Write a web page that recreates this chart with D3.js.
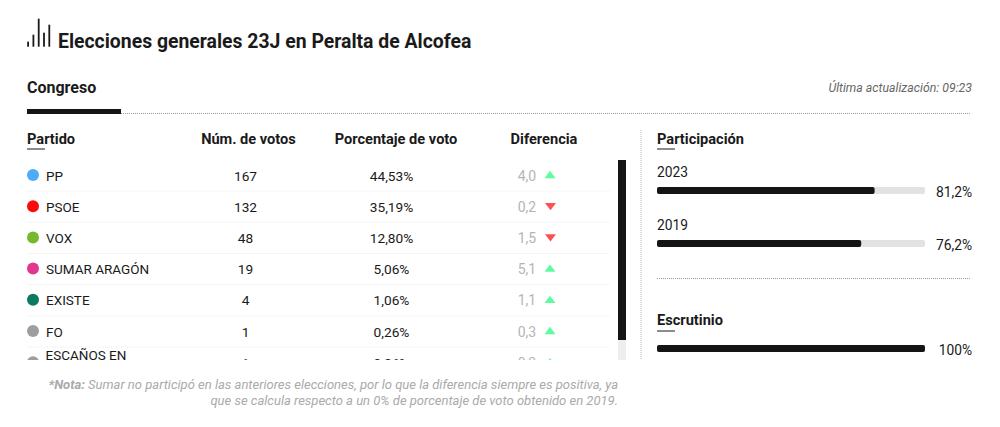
<!DOCTYPE html>
<html>
<head>
<meta charset="utf-8">
<script src="https://cdn.jsdelivr.net/npm/d3@7"></script>
<style>
  html, body { margin: 0; padding: 0; background: #fff; }
  svg { display: block; }
  text { font-family: Roboto, sans-serif; fill: #1a1a1a; }
</style>
</head>
<body>
<script>
const parties = ['PP', 'PSOE', 'VOX', 'SUMAR ARAGÓN', 'EXISTE', 'FO', 'ESCAÑOS EN BLANCO']
const votes = [167, 132, 48, 19, 4, 1, 1]
const percents = ['44,53%', '35,19%', '12,80%', '5,06%', '1,06%', '0,26%', '0,26%']
const diffs = ['4,0', '0,2', '1,5', '5,1', '1,1', '0,3', '0,3']
const directions = ['up', 'down', 'down', 'up', 'up', 'up', 'up']
const partyColors = ['#4dabf7', '#ff0a0a', '#78b82e', '#e0378f', '#0b7a5e', '#9e9e9e', '#9e9e9e']
const columns = ['Partido', 'Núm. de votos', 'Porcentaje de voto', 'Diferencia']
const turnoutYears = ['2023', '2019']
const turnoutValues = [81.2, 76.2]
const turnoutLabels = ['81,2%', '76,2%']
const countedValue = 100
const countedLabel = '100%'
const titleBars = [5, 12, 28, 14, 22]

const svg = d3.select('body').append('svg')
    .attr('width', 1000)
    .attr('height', 427)

const rowY = d3.scalePoint().domain(parties).range([175.5, 362.7])
const barX = d3.scaleLinear().domain([0, 100]).range([657, 925])
const iconH = d3.scaleLinear().domain([0, 28]).range([0, 28])

function label(parent, x, y, txt, size, weight, anchor, color) {
    return parent.append('text')
        .attr('x', x)
        .attr('y', y)
        .attr('font-size', size)
        .attr('font-weight', weight || 400)
        .attr('text-anchor', anchor || 'start')
        .style('fill', color || '#1a1a1a')
        .text(txt)
}

function dotted(x1, y1, x2, y2, color) {
    svg.append('line')
        .attr('x1', x1).attr('y1', y1)
        .attr('x2', x2).attr('y2', y2)
        .attr('stroke', color || '#9a9a9a')
        .attr('stroke-width', 1)
        .attr('stroke-dasharray', '1 1')
}

// title and its little bars
svg.selectAll('.icon').data(titleBars).join('rect')
    .attr('class', 'icon')
    .attr('x', (d, i) => 27.2 + i * 5.3)
    .attr('y', d => 46.7 - iconH(d))
    .attr('width', 1.8)
    .attr('height', d => iconH(d))
    .attr('fill', '#1a1a1a')

label(svg, 58, 47.5, 'Elecciones generales 23J en Peralta de Alcofea', 19.4, 700)
label(svg, 27, 92.5, 'Congreso', 16, 700)
label(svg, 972, 92, 'Última actualización: 09:23', 12.3, 400, 'end', '#666').attr('font-style', 'italic')

svg.append('rect').attr('x', 27).attr('y', 109).attr('width', 94).attr('height', 5).attr('fill', '#141414')
dotted(121, 113.5, 971, 113.5)

// table header
const headerX = [27, 248.5, 396, 544]
const headerAnchor = ['start', 'middle', 'middle', 'middle']
columns.forEach((c, i) => label(svg, headerX[i], 144, c, 14.6, 700, headerAnchor[i]))
svg.append('rect').attr('x', 27).attr('y', 148.5).attr('width', 18).attr('height', 1).attr('fill', '#1a1a1a')

// rows are cut off at the bottom of the scroll box
svg.append('clipPath').attr('id', 'rowsClip')
    .append('rect').attr('x', 20).attr('y', 155).attr('width', 610).attr('height', 205)

const rows = svg.append('g').attr('clip-path', 'url(#rowsClip)')

const row = rows.selectAll('g').data(parties).join('g')
    .attr('transform', d => `translate(0,${rowY(d)})`)

row.filter((d, i) => i < parties.length - 1).append('line')
    .attr('x1', 27).attr('x2', 610)
    .attr('y1', 15.6).attr('y2', 15.6)
    .attr('stroke', '#ececec')
    .attr('stroke-dasharray', '1 1')

row.append('circle')
    .attr('cx', 33)
    .attr('cy', -0.5)
    .attr('r', 6)
    .attr('fill', (d, i) => partyColors[i])

row.each(function (d, i) {
    let g = d3.select(this)
    if (i === parties.length - 1) {
        let words = d.split(' ')
        label(g, 45.5, -2.5, words.slice(0, 2).join(' '), 13.5)
        label(g, 45.5, 12.5, words[2], 13.5)
    } else {
        label(g, 46, 5, d, 13.5)
    }
    label(g, 245.5, 5, votes[i], 13.7, 400, 'middle')
    label(g, 391.5, 5, percents[i], 13.7, 400, 'middle')
    label(g, 527, 5, diffs[i], 14, 400, 'middle', '#b5b5b5')
    g.append('path')
        .attr('d', d3.symbol().type(d3.symbolTriangle).size(52))
        .attr('transform', directions[i] === 'up'
            ? 'translate(550,0.3) scale(1,0.78)'
            : 'translate(550.5,-1.3) rotate(180) scale(1,0.78)')
        .attr('fill', directions[i] === 'up' ? '#5efc9c' : '#ff5050')
})

// scrollbar
svg.append('rect').attr('x', 618).attr('y', 160).attr('width', 8).attr('height', 200).attr('fill', '#eeeeee')
svg.append('rect').attr('x', 618).attr('y', 160).attr('width', 8).attr('height', 180).attr('fill', '#141414')
dotted(641, 130, 641, 360, '#b5b5b5')

// participación
label(svg, 657, 144, 'Participación', 14.6, 700)
svg.append('rect').attr('x', 657).attr('y', 148.5).attr('width', 18).attr('height', 1).attr('fill', '#1a1a1a')

function bar(y, value, txt) {
    svg.append('rect')
        .attr('x', barX(0)).attr('y', y)
        .attr('width', barX(100) - barX(0)).attr('height', 7)
        .attr('rx', 2).attr('fill', '#e2e2e2')
    svg.append('rect')
        .attr('x', barX(0)).attr('y', y)
        .attr('width', barX(value) - barX(0)).attr('height', 7)
        .attr('rx', 2).attr('fill', '#141414')
    label(svg, 972, y + 9.5, txt, 13.8, 400, 'end')
}

const turnoutY = d3.scalePoint().domain(turnoutYears).range([187, 240])
turnoutYears.forEach((year, i) => {
    label(svg, 657, turnoutY(year) - 10, year, 13.8)
    bar(turnoutY(year), turnoutValues[i], turnoutLabels[i])
})

dotted(657, 278.5, 971, 278.5)

// escrutinio
label(svg, 657, 325, 'Escrutinio', 14.6, 700)
svg.append('rect').attr('x', 657).attr('y', 330.5).attr('width', 18).attr('height', 1).attr('fill', '#1a1a1a')
bar(345, countedValue, countedLabel)

// nota
const note = label(svg, 618, 389, '', 13, 400, 'end', '#aaaaaa').attr('font-style', 'italic')
note.append('tspan').attr('font-weight', 700).text('*Nota:')
note.append('tspan').text(' Sumar no participó en las anteriores elecciones, por lo que la diferencia siempre es positiva, ya')
label(svg, 618, 405, 'que se calcula respecto a un 0% de porcentaje de voto obtenido en 2019.', 13, 400, 'end', '#aaaaaa').attr('font-style', 'italic')
</script>
</body>
</html>
